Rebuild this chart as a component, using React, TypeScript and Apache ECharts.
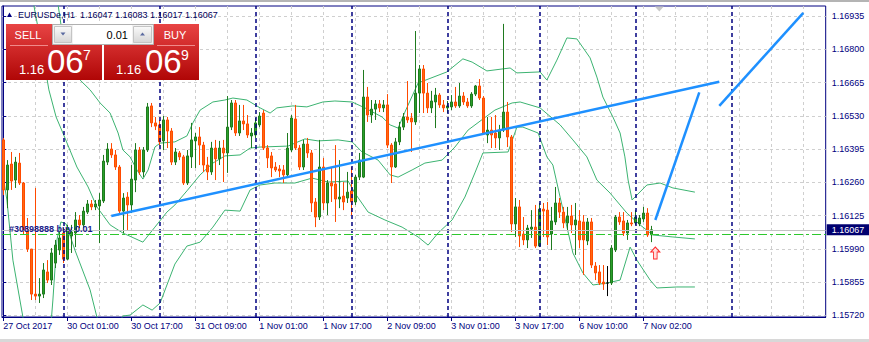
import React, { useEffect, useRef } from "react";
import * as echarts from "echarts";

const opens = [
  1.16432, 1.16229, 1.16334, 1.16269, 1.16338, 1.16257, 1.16066, 1.15989, 1.15806, 1.15798,
  1.15806, 1.15896, 1.15863, 1.15932, 1.15985, 1.16054, 1.15948, 1.16042, 1.16054, 1.16107,
  1.16087, 1.16139, 1.16172, 1.1616, 1.16164, 1.16184, 1.16342, 1.16395, 1.16371, 1.16322,
  1.16143, 1.162, 1.16168, 1.16269, 1.16391, 1.16302, 1.16391, 1.1657, 1.16501, 1.16493,
  1.16428, 1.16513, 1.16468, 1.16342, 1.16379, 1.16363, 1.16257, 1.16363, 1.16428, 1.16444,
  1.16411, 1.1633, 1.16302, 1.16399, 1.16355, 1.16399, 1.16379, 1.16484, 1.16582, 1.1646,
  1.16509, 1.16497, 1.16448, 1.16452, 1.16493, 1.16541, 1.16399, 1.16367, 1.16322, 1.16314,
  1.1631, 1.1629, 1.16391, 1.16517, 1.16399, 1.16322, 1.16415, 1.16379, 1.1618, 1.16119,
  1.16322, 1.16176, 1.16257, 1.16253, 1.16192, 1.16204, 1.16196, 1.16225, 1.1618, 1.16281,
  1.16281, 1.16606, 1.16533, 1.16557, 1.16578, 1.16562, 1.16574, 1.16411, 1.16322, 1.16424,
  1.16484, 1.16525, 1.16521, 1.16505, 1.16622, 1.1672, 1.16622, 1.16562, 1.16586, 1.16614,
  1.16574, 1.16562, 1.16566, 1.16586, 1.1657, 1.1661, 1.16586, 1.1657, 1.16618, 1.16651,
  1.16602, 1.16452, 1.16472, 1.1646, 1.1644, 1.16472, 1.16545, 1.16444, 1.16091, 1.1616,
  1.1605, 1.16026, 1.1607, 1.16078, 1.16001, 1.16151, 1.16147, 1.1605, 1.16099, 1.16176,
  1.16139, 1.16095, 1.16123, 1.16087, 1.16103, 1.16099, 1.16022, 1.16099, 1.1592, 1.15896,
  1.15855, 1.15851, 1.15851, 1.15985, 1.16119, 1.16103, 1.16054, 1.16095, 1.16095, 1.16091,
  1.16111, 1.16135, 1.16047,
];
const closes = [
  1.16229, 1.1633, 1.16265, 1.16342, 1.16257, 1.16066, 1.15989, 1.15806, 1.15798, 1.15806,
  1.15904, 1.15863, 1.15973, 1.16005, 1.16034, 1.15948, 1.16074, 1.16058, 1.16107, 1.16087,
  1.16143, 1.16172, 1.1616, 1.16172, 1.16188, 1.16346, 1.16395, 1.16371, 1.16322, 1.16143,
  1.16196, 1.16168, 1.16273, 1.16391, 1.16302, 1.16391, 1.16566, 1.16501, 1.16488, 1.16424,
  1.16513, 1.16468, 1.16342, 1.16383, 1.16363, 1.16257, 1.16367, 1.16432, 1.16444, 1.16411,
  1.1633, 1.16302, 1.16399, 1.16355, 1.16399, 1.16379, 1.16484, 1.16582, 1.1646, 1.16509,
  1.16497, 1.16452, 1.1646, 1.16501, 1.16529, 1.16399, 1.16359, 1.16318, 1.1631, 1.16306,
  1.1629, 1.16399, 1.16521, 1.16399, 1.16322, 1.16415, 1.16379, 1.16176, 1.16119, 1.16322,
  1.16176, 1.16257, 1.16245, 1.16192, 1.162, 1.1618, 1.1622, 1.1618, 1.16281, 1.1635,
  1.16606, 1.16533, 1.16557, 1.16578, 1.16562, 1.16574, 1.16411, 1.16322, 1.16424, 1.16484,
  1.16525, 1.16513, 1.16505, 1.16622, 1.1672, 1.16622, 1.16562, 1.1659, 1.16614, 1.16574,
  1.16562, 1.1657, 1.16586, 1.1657, 1.1661, 1.16586, 1.1657, 1.16618, 1.16651, 1.16602,
  1.1646, 1.16472, 1.16452, 1.1644, 1.16472, 1.16545, 1.16444, 1.16091, 1.1616, 1.16042,
  1.16026, 1.16074, 1.16078, 1.16001, 1.16151, 1.16143, 1.16038, 1.16103, 1.16176, 1.16139,
  1.16095, 1.16123, 1.16087, 1.16107, 1.16026, 1.16026, 1.16099, 1.15924, 1.15892, 1.15851,
  1.15847, 1.15851, 1.15993, 1.16119, 1.16099, 1.16054, 1.16095, 1.16091, 1.16119, 1.16115,
  1.16135, 1.16046, 1.16067,
];
const highs = [
  1.1644, 1.1635, 1.16383, 1.16363, 1.16379, 1.16261, 1.16115, 1.15989, 1.16237, 1.15871,
  1.15932, 1.15944, 1.15993, 1.16026, 1.16058, 1.16074, 1.16087, 1.16087, 1.16139, 1.16127,
  1.1616, 1.16188, 1.16188, 1.16188, 1.16216, 1.16371, 1.16419, 1.16419, 1.16391, 1.1633,
  1.16216, 1.1622, 1.1633, 1.16419, 1.16403, 1.16403, 1.16582, 1.16582, 1.16525, 1.16513,
  1.16529, 1.16525, 1.1648, 1.16399, 1.16387, 1.16371, 1.16391, 1.16501, 1.1646, 1.16484,
  1.16424, 1.16363, 1.16424, 1.16432, 1.16428, 1.16432, 1.1661, 1.16594, 1.16594, 1.16574,
  1.16574, 1.16533, 1.1648, 1.16521, 1.16545, 1.16553, 1.16411, 1.16383, 1.16342, 1.1633,
  1.1633, 1.1646, 1.16533, 1.16574, 1.16411, 1.16432, 1.1644, 1.16391, 1.16196, 1.16432,
  1.16359, 1.16269, 1.16322, 1.16411, 1.1635, 1.16261, 1.16302, 1.16322, 1.1629, 1.16379,
  1.16716, 1.16647, 1.16594, 1.16594, 1.16594, 1.16594, 1.16618, 1.16419, 1.1644, 1.16505,
  1.16541, 1.16671, 1.16541, 1.16874, 1.16736, 1.16736, 1.16663, 1.16631, 1.16643, 1.16622,
  1.16594, 1.1659, 1.16614, 1.16647, 1.16663, 1.16626, 1.16602, 1.16626, 1.16655, 1.16679,
  1.1661, 1.16525, 1.16525, 1.16533, 1.16493, 1.16903, 1.16586, 1.16452, 1.16196, 1.16188,
  1.16119, 1.16087, 1.16147, 1.16168, 1.16176, 1.16176, 1.1618, 1.1616, 1.16241, 1.16196,
  1.1616, 1.1616, 1.16168, 1.16176, 1.16147, 1.16127, 1.16115, 1.16115, 1.15936, 1.15924,
  1.15924, 1.1592, 1.16005, 1.16127, 1.16139, 1.16139, 1.16107, 1.16139, 1.16147, 1.16127,
  1.1616, 1.16155, 1.16083,
];
const lows = [
  1.16208, 1.16155, 1.16229, 1.16237, 1.16249, 1.16046, 1.15977, 1.15782, 1.15782, 1.1577,
  1.1579, 1.15851, 1.15843, 1.15912, 1.15965, 1.15932, 1.15944, 1.15973, 1.15997, 1.16074,
  1.16074, 1.16131, 1.16147, 1.16147, 1.16013, 1.16176, 1.1633, 1.16359, 1.1631, 1.16127,
  1.16054, 1.16066, 1.16135, 1.1622, 1.1629, 1.16281, 1.16383, 1.16484, 1.16472, 1.16411,
  1.16391, 1.16399, 1.1633, 1.1633, 1.1635, 1.16249, 1.16249, 1.16318, 1.16318, 1.1633,
  1.16302, 1.16269, 1.1629, 1.16269, 1.1633, 1.16261, 1.16298, 1.16472, 1.16448, 1.16448,
  1.16472, 1.1644, 1.16399, 1.1644, 1.16484, 1.16391, 1.16318, 1.16281, 1.16302, 1.16281,
  1.16257, 1.16281, 1.16383, 1.16391, 1.1631, 1.1631, 1.16359, 1.16139, 1.16078, 1.16107,
  1.16147, 1.16127, 1.1618, 1.16099, 1.16155, 1.16147, 1.16176, 1.16127, 1.16168, 1.16269,
  1.16277, 1.16505, 1.16501, 1.16513, 1.16545, 1.16545, 1.16399, 1.16257, 1.16318, 1.16411,
  1.16472, 1.16501, 1.16383, 1.16493, 1.16541, 1.16541, 1.16541, 1.16541, 1.1648, 1.16562,
  1.16545, 1.16541, 1.16553, 1.16562, 1.16562, 1.16574, 1.16562, 1.16562, 1.1661, 1.16594,
  1.16452, 1.16419, 1.16399, 1.16399, 1.16391, 1.16464, 1.16403, 1.16058, 1.16038, 1.15997,
  1.16005, 1.15993, 1.16034, 1.15993, 1.15997, 1.16038, 1.16005, 1.15985, 1.16087, 1.16115,
  1.16074, 1.16066, 1.16054, 1.15965, 1.15993, 1.15884, 1.16005, 1.15912, 1.15863, 1.15843,
  1.15823, 1.15798, 1.15843, 1.15977, 1.16087, 1.16042, 1.16026, 1.16082, 1.16087, 1.16082,
  1.16099, 1.16038, 1.16017,
];

// Bollinger band lines: [bar position, price]
const bandUpper = [
  [13.2, 1.17061], [13.7, 1.1698], [14.9, 1.16846], [16.7, 1.16756], [19.2, 1.16675], [21.7, 1.16635],
  [24.2, 1.16582], [26.7, 1.16541], [28.7, 1.1646], [29.9, 1.16391], [31.7, 1.16363], [33.4, 1.1631],
  [34.9, 1.16273], [36.2, 1.1631], [37.9, 1.16403], [39.2, 1.16419], [42.9, 1.16424], [45.9, 1.16448],
  [47.4, 1.16501], [49.2, 1.16553], [52.4, 1.16586], [55.4, 1.16594], [57.4, 1.16602], [60.9, 1.16594],
  [64.2, 1.16562], [66.7, 1.16541], [68.4, 1.16562], [72.4, 1.1657], [75.9, 1.16566], [79.9, 1.16586],
  [82.9, 1.1659], [87.2, 1.16586], [90.4, 1.16562], [94.7, 1.16525], [96.7, 1.16493], [98.7, 1.1648],
  [100.4, 1.16545], [103.7, 1.16663], [110.9, 1.16708], [114.9, 1.16761], [117.2, 1.16748], [120.9, 1.16712],
  [126.7, 1.16724], [128.4, 1.16704], [134.2, 1.16708], [135.9, 1.16675], [138.4, 1.16756], [140.9, 1.16846],
  [143.4, 1.16842], [146.7, 1.16765], [148.4, 1.16687], [149.9, 1.16606], [152.4, 1.16525], [154.2, 1.1646],
  [155.4, 1.16363], [156.2, 1.16269], [157.2, 1.16188], [158.4, 1.16208], [160.9, 1.16249], [164.2, 1.16257],
  [167.4, 1.16237], [172.9, 1.1622],
];
const bandMiddle = [
  [6.7, 1.17061], [9.7, 1.16797], [11.4, 1.16635], [13.2, 1.16525], [14.9, 1.1646], [18.4, 1.16322],
  [21.2, 1.16241], [23.4, 1.1616], [26.7, 1.16087], [29.9, 1.16054], [34.9, 1.16017], [37.9, 1.16078],
  [40.9, 1.16139], [42.9, 1.16168], [45.9, 1.16225], [49.2, 1.1629], [52.4, 1.16338], [55.4, 1.16367],
  [59.2, 1.16371], [61.7, 1.16399], [64.2, 1.16403], [71.2, 1.16407], [75.4, 1.16436], [78.7, 1.16428],
  [83.7, 1.16432], [87.2, 1.16424], [89.7, 1.16383], [93.7, 1.1635], [96.7, 1.1629], [98.7, 1.16281],
  [102.2, 1.1631], [105.4, 1.16338], [109.7, 1.1635], [112.9, 1.16403], [116.2, 1.16472], [122.9, 1.16553],
  [127.2, 1.16582], [129.2, 1.16586], [134.2, 1.16562], [139.2, 1.16493], [142.4, 1.16432], [145.9, 1.16363],
  [148.4, 1.16269], [151.7, 1.16216], [155.9, 1.16135], [159.2, 1.16087], [162.4, 1.16046], [167.4, 1.16038],
  [172.9, 1.1603],
];
const bandLower = [
  [-0.1, 1.1629], [0.9, 1.16188], [2.4, 1.15944], [4.9, 1.15713], [7.9, 1.15538], [11.2, 1.15538],
  [12.4, 1.15782], [13.4, 1.16026], [14.4, 1.16099], [15.7, 1.16091], [17.9, 1.15985], [21.7, 1.15823],
  [23.4, 1.15713], [26.7, 1.15632], [29.9, 1.15717], [31.7, 1.15721], [34.9, 1.15762], [37.2, 1.15741],
  [39.2, 1.1577], [42.9, 1.15928], [45.9, 1.16001], [49.2, 1.16017], [52.4, 1.16078], [55.4, 1.16147],
  [59.2, 1.16143], [61.7, 1.16229], [64.2, 1.16249], [67.9, 1.16257], [72.9, 1.16257], [77.2, 1.16277],
  [81.2, 1.16261], [86.2, 1.16265], [87.9, 1.16216], [91.2, 1.16139], [95.4, 1.16107], [99.7, 1.16078],
  [103.7, 1.16038], [106.2, 1.16005], [108.7, 1.16054], [112.2, 1.16107], [115.4, 1.162], [117.9, 1.16298],
  [119.9, 1.16379], [126.2, 1.16383], [128.4, 1.16484], [129.9, 1.16484], [133.7, 1.1646], [135.9, 1.16363],
  [137.4, 1.1633], [139.2, 1.162], [142.4, 1.15973], [144.9, 1.15892], [147.4, 1.15843], [150.9, 1.15851],
  [154.2, 1.15863], [156.7, 1.15997], [158.4, 1.15944], [161.7, 1.15863], [163.4, 1.15831], [168.4, 1.15835],
  [172.9, 1.15835],
];

const timeTickIndex = [0, 16, 32, 48, 64, 80, 96, 112, 128, 144, 160];
const timeTickText = [
  "27 Oct 2017", "30 Oct 01:00", "30 Oct 17:00", "31 Oct 09:00", "1 Nov 01:00", "1 Nov 17:00",
  "2 Nov 09:00", "3 Nov 01:00", "3 Nov 17:00", "6 Nov 10:00", "7 Nov 02:00",
];
const timeGridIndex = [0, 8, 16, 24, 32, 40, 48, 56, 64, 72, 80, 88, 96, 104, 112, 120, 128, 136, 144, 152, 160, 168, 176, 184, 192, 200];
const priceTicks = [1.1572, 1.15855, 1.1599, 1.16125, 1.1626, 1.16395, 1.1653, 1.16665, 1.168, 1.16935];
const daySeparators = [15, 39, 63, 87, 111, 134, 158, 182];
const bidPrice = 1.16067;
const orderPrice = 1.1605;
const orderLabel = "#30898888 buy 0.01";
const arrowPoint = [163, 1.15973];
const trendLine1 = [[27, 1.16123], [179, 1.16668]];
const trendLine2 = [[163, 1.16107], [174, 1.16625]];
const trendLine3 = [[179, 1.1657], [200, 1.16948]];
const headerText = "EURUSDe,H1  1.16047 1.16083 1.16017 1.16067";
const sellPrice = ["1.16", "06", "7"];
const buyPrice = ["1.16", "06", "9"];
const lotText = "0.01";

const FONT = "'Liberation Sans', Arial, sans-serif";
const NAVY = "#000080";
const BAND = "#3cb371";

export default function App() {
  const ref = useRef<HTMLDivElement>(null);
  useEffect(() => {
    const chart = echarts.init(ref.current as HTMLDivElement, null, { renderer: "svg" });
    const candles = opens.map((o, i) => [i, o, closes[i], lows[i], highs[i]]);
    const redGrad = {
      type: "linear", x: 0, y: 0, x2: 0, y2: 1,
      colorStops: [{ offset: 0, color: "#e84444" }, { offset: 1, color: "#b00606" }],
    };
    const btnGrad = {
      type: "linear", x: 0, y: 0, x2: 0, y2: 1,
      colorStops: [{ offset: 0, color: "#fafafa" }, { offset: 1, color: "#d6d6d6" }],
    };
    const trend = (d: number[][]) => ({
      type: "line", data: d, showSymbol: false, silent: true,
      lineStyle: { color: "#1e90ff", width: 2.5 }, z: 5,
    });
    const band = (d: number[][], extra: any = {}) => ({
      type: "line", data: d, showSymbol: false, silent: true, clip: true,
      lineStyle: { color: BAND, width: 1 }, z: 2, ...extra,
    });
    const option = {
      animation: false,
      backgroundColor: "#ffffff",
      textStyle: { fontFamily: FONT },
      grid: { left: 2, right: 43.3, top: 6, bottom: 25, show: true, borderColor: NAVY, borderWidth: 1, backgroundColor: "#ffffff" },
      xAxis: [
        {
          type: "value", min: -0.325, max: 205.6, position: "bottom",
          axisLine: { show: true, lineStyle: { color: NAVY, width: 1 } },
          axisTick: { show: true, length: 4, customValues: timeTickIndex, lineStyle: { color: NAVY } },
          axisLabel: {
            show: true, customValues: timeTickIndex, align: "left", margin: 4,
            color: NAVY, fontSize: 9, fontFamily: FONT,
            formatter: (v: number) => timeTickText[timeTickIndex.indexOf(Math.round(v))] || "",
          },
          splitLine: { show: false },
        },
        {
          type: "value", min: -0.325, max: 205.6, position: "bottom",
          axisLine: { show: false }, axisLabel: { show: false },
          axisTick: { show: false, customValues: timeGridIndex },
          splitLine: { show: true, lineStyle: { color: "#cfcfcf", type: [3, 3], width: 1 } },
        },
      ],
      yAxis: {
        type: "value", position: "right", min: 1.157131, max: 1.169756,
        axisLine: { show: true, lineStyle: { color: NAVY, width: 1 } },
        axisTick: { show: true, length: 3, customValues: priceTicks, lineStyle: { color: NAVY } },
        axisLabel: {
          show: true, customValues: priceTicks, margin: 6, color: NAVY, fontSize: 9, fontFamily: FONT,
          formatter: (v: number) => v.toFixed(5),
        },
        splitLine: { show: true, lineStyle: { color: "#cfcfcf", type: [3, 3], width: 1 } },
      },
      series: [
        band(bandUpper),
        band(bandLower),
        band(bandMiddle, {
          markLine: {
            silent: true, symbol: ["none", "none"], animation: false, precision: 5,
            data: [
              ...daySeparators.map((d) => ({
                xAxis: d, label: { show: false },
                lineStyle: { color: NAVY, type: [4, 3], width: 1.5 },
              })),
              {
                yAxis: bidPrice,
                lineStyle: { color: "#c4c4c4", type: "solid", width: 1 },
                label: {
                  show: true, position: "end", distance: 1, formatter: bidPrice.toFixed(5),
                  color: "#ffffff", backgroundColor: "#000070", padding: [1, 5, 0, 5],
                  fontSize: 9, fontFamily: FONT, lineHeight: 10,
                },
              },
              {
                yAxis: orderPrice,
                lineStyle: { color: "#2ec82e", type: [9, 3, 3, 3], width: 1 },
                label: {
                  show: true, position: "insideStartTop", distance: [7, 1], formatter: orderLabel,
                  color: "#1a1a8a", fontSize: 9, fontFamily: FONT, fontWeight: "bold",
                },
              },
            ],
          },
        }),
        {
          type: "candlestick",
          data: candles,
          encode: { x: 0, y: [1, 2, 3, 4] },
          barWidth: 2,
          itemStyle: {
            color: "#2aa02a", borderColor: "#1f7a1f",
            color0: "#ff6a10", borderColor0: "#ff4a00",
            borderColorDoji: "#000000", borderWidth: 1,
          },
          z: 3,
          markPoint: {
            silent: true, animation: false,
            data: [
              {
                coord: arrowPoint, symbol: "path://M5,0 L10,5 L7,5 L7,12 L3,12 L3,5 L0,5 Z",
                symbolSize: [9, 12], itemStyle: { color: "#ffdede", borderColor: "#ff2a2a", borderWidth: 1 },
                label: { show: false },
              },
              {
                coord: [164, 1.169756], symbol: "triangle", symbolRotate: 180, symbolSize: [9, 5],
                symbolOffset: [0, 3], itemStyle: { color: "#c8c8c8" }, label: { show: false },
              },
            ],
          },
        },
        trend(trendLine1),
        trend(trendLine2),
        trend(trendLine3),
      ],
      graphic: [
        { type: "rect", z: 100, shape: { x: 0, y: 0, width: 869, height: 2 }, style: { fill: "#b4b4b4" }, silent: true },
        { type: "rect", z: 100, shape: { x: 0, y: 339, width: 869, height: 3 }, style: { fill: "#d8d8d8" }, silent: true },
        { type: "polygon", z: 100, shape: { points: [[7, 17], [12, 17], [9.5, 12.5]] }, style: { fill: NAVY }, silent: true },
        {
          type: "text", z: 100, x: 18, y: 15, silent: true,
          style: { text: headerText, fill: "#00005a", fontSize: 9, fontFamily: FONT, verticalAlign: "middle" },
        },
        { type: "rect", z: 100, shape: { x: 6, y: 24, width: 96, height: 56 }, style: { fill: redGrad }, silent: true },
        { type: "rect", z: 100, shape: { x: 104, y: 24, width: 95, height: 56 }, style: { fill: redGrad }, silent: true },
        { type: "line", z: 101, shape: { x1: 10, y1: 45.5, x2: 48, y2: 45.5 }, style: { stroke: "#f08a8a", lineWidth: 1 }, silent: true },
        { type: "line", z: 101, shape: { x1: 157, y1: 45.5, x2: 195, y2: 45.5 }, style: { stroke: "#f08a8a", lineWidth: 1 }, silent: true },
        { type: "rect", z: 101, shape: { x: 52.5, y: 24.5, width: 101, height: 20 }, style: { fill: "#f2f2f2", stroke: "#b0b0b0" }, silent: true },
        { type: "rect", z: 102, shape: { x: 73, y: 25, width: 59, height: 19 }, style: { fill: "#ffffff" }, silent: true },
        { type: "rect", z: 102, shape: { x: 54.5, y: 26.5, width: 17, height: 16 }, style: { fill: btnGrad, stroke: "#c4c4c4" }, silent: true },
        { type: "rect", z: 102, shape: { x: 133.5, y: 26.5, width: 18, height: 16 }, style: { fill: btnGrad, stroke: "#c4c4c4" }, silent: true },
        { type: "polygon", z: 103, shape: { points: [[60.5, 32.5], [65.5, 32.5], [63, 35.5]] }, style: { fill: "#5a6aa0" }, silent: true },
        { type: "polygon", z: 103, shape: { points: [[140, 35.5], [145, 35.5], [142.5, 32.5]] }, style: { fill: "#5a6aa0" }, silent: true },
        {
          type: "text", z: 103, x: 128, y: 34.5, silent: true,
          style: { text: lotText, fill: "#000000", fontSize: 11, fontFamily: FONT, align: "right", verticalAlign: "middle" },
        },
        {
          type: "text", z: 103, x: 28, y: 34.5, silent: true,
          style: { text: "SELL", fill: "#ffffff", fontSize: 11, fontFamily: FONT, align: "center", verticalAlign: "middle" },
        },
        {
          type: "text", z: 103, x: 175, y: 34.5, silent: true,
          style: { text: "BUY", fill: "#ffffff", fontSize: 11, fontFamily: FONT, align: "center", verticalAlign: "middle" },
        },
        {
          type: "text", z: 103, x: 19, y: 75.5, silent: true,
          style: { text: sellPrice[0], fill: "#ffffff", fontSize: 13, fontFamily: FONT, verticalAlign: "bottom" },
        },
        {
          type: "text", z: 103, x: 47, y: 77.5, silent: true,
          style: { text: sellPrice[1], fill: "#ffffff", fontSize: 33, fontFamily: FONT, verticalAlign: "bottom" },
        },
        {
          type: "text", z: 103, x: 83, y: 48, silent: true,
          style: { text: sellPrice[2], fill: "#ffffff", fontSize: 14, fontFamily: FONT, verticalAlign: "top" },
        },
        {
          type: "text", z: 103, x: 116, y: 75.5, silent: true,
          style: { text: buyPrice[0], fill: "#ffffff", fontSize: 13, fontFamily: FONT, verticalAlign: "bottom" },
        },
        {
          type: "text", z: 103, x: 145, y: 77.5, silent: true,
          style: { text: buyPrice[1], fill: "#ffffff", fontSize: 33, fontFamily: FONT, verticalAlign: "bottom" },
        },
        {
          type: "text", z: 103, x: 181, y: 48, silent: true,
          style: { text: buyPrice[2], fill: "#ffffff", fontSize: 14, fontFamily: FONT, verticalAlign: "top" },
        },
      ],
    };
    chart.setOption(option as any);
    return () => chart.dispose();
  }, []);
  return <div ref={ref} style={{ position: "absolute", left: 0, top: 0, width: 869, height: 342 }} />;
}
